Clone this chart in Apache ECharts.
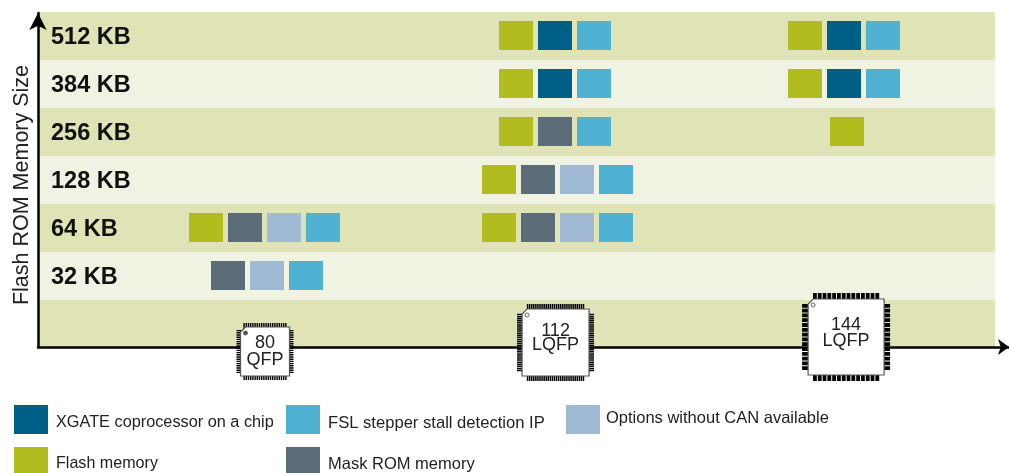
<!DOCTYPE html>
<html>
<head>
<meta charset="utf-8">
<style>
html, body { margin: 0; padding: 0; background: #fff; }
#main { width: 1009px; height: 473px; }
</style>
<script src="https://cdn.jsdelivr.net/npm/echarts@6/dist/echarts.min.js"></script>
</head>
<body>
<div id="main"></div>
<script>
// rows, bottom to top. the empty one is where the packages sit
var memorySizes = ['', '32 KB', '64 KB', '128 KB', '256 KB', '384 KB', '512 KB'];
var packagePins = [80, 112, 144];
var packageNames = ['80\nQFP', '112\nLQFP', '144\nLQFP'];

// [pin count, memory size] for every block
var flashCells = [[80, '64 KB'], [112, '64 KB'], [112, '128 KB'], [112, '256 KB'], [112, '384 KB'], [112, '512 KB'], [144, '256 KB'], [144, '384 KB'], [144, '512 KB']];
var xgateCells = [[112, '384 KB'], [112, '512 KB'], [144, '384 KB'], [144, '512 KB']];
var maskCells = [[80, '32 KB'], [80, '64 KB'], [112, '64 KB'], [112, '128 KB'], [112, '256 KB']];
var optionCells = [[80, '32 KB'], [80, '64 KB'], [112, '64 KB'], [112, '128 KB']];
var fslCells = [[80, '32 KB'], [80, '64 KB'], [112, '64 KB'], [112, '128 KB'], [112, '256 KB'], [112, '384 KB'], [112, '512 KB'], [144, '384 KB'], [144, '512 KB']];

// left to right order inside a cell
var blockTypes = [
    { name: 'Flash memory', color: '#b1bd1f', cells: flashCells },
    { name: 'XGATE coprocessor on a chip', color: '#005f87', cells: xgateCells },
    { name: 'Mask ROM memory', color: '#5c6d7a', cells: maskCells },
    { name: 'Options without CAN available', color: '#9fbad2', cells: optionCells },
    { name: 'FSL stepper stall detection IP', color: '#4fb2d3', cells: fslCells }
];

var FONT = '"Liberation Sans", Arial, sans-serif';
var BLOCK_W = 34, BLOCK_H = 29, BLOCK_PITCH = 39;
// the groups are not quite centred on the package, px nudge by pins-count
var groupNudge = { '80-3': 2, '112-3': -1, '112-4': 2, '144-3': -2, '144-1': 1 };

function hasCell(cells, pins, size) {
    return cells.some(function(c) {
        return c[0] === pins && c[1] === size;
    });
}

// which slot this block takes and how many blocks share the cell
function cellSlot(typeIndex, pins, size) {
    var count = 0, slot = 0;
    blockTypes.forEach(function(t, i) {
        if (hasCell(t.cells, pins, size)) {
            if (i < typeIndex) slot++;
            count++;
        }
    });
    return { slot: slot, count: count };
}

function blockSeries(type, typeIndex) {
    return {
        name: type.name,
        type: 'custom',
        xAxisIndex: 0,
        yAxisIndex: 0,
        z: 3,
        itemStyle: { color: type.color },
        data: type.cells,
        encode: { x: 0, y: 1 },
        renderItem: function(params, api) {
            var cell = type.cells[params.dataIndex];
            var p = api.coord([cell[0], memorySizes.indexOf(cell[1])]);
            var s = cellSlot(typeIndex, cell[0], cell[1]);
            var left = p[0] - (s.count * BLOCK_PITCH - (BLOCK_PITCH - BLOCK_W)) / 2 + s.slot * BLOCK_PITCH;
            left += groupNudge[cell[0] + '-' + s.count] || 0;
            return {
                type: 'rect',
                shape: { x: Math.round(left), y: Math.floor(p[1] - BLOCK_H / 2 + 0.4), width: BLOCK_W, height: BLOCK_H },
                style: { fill: type.color }
            };
        }
    };
}

// chip drawing, one entry per package
var chipLooks = [
    { dy: 27.5, body: 49, pins: 20, pitch: 2.2, pinW: 1.4, pinL: 4, dot: '#555', line: 17, textDy: 0 },
    { dy: 18.5, body: 67, pins: 28, pitch: 2.07, pinW: 1.5, pinL: 5, dot: '#fff', line: 14.5, textDy: -4.5 },
    { dy: 13, body: 76, pins: 14, pitch: 4.8, pinW: 3.8, pinL: 6, dot: '#fff', line: 16, textDy: -4 }
];

function chipItem(params, api) {
    var look = chipLooks[params.dataIndex];
    var p = api.coord([api.value(0), 0]);
    var half = look.body / 2;
    var span = (look.pins - 1) * look.pitch;
    var children = [];
    for (var i = 0; i < look.pins; i++) {
        var t = -span / 2 + i * look.pitch - look.pinW / 2;
        children.push({ type: 'rect', shape: { x: t, y: -half - look.pinL, width: look.pinW, height: look.body + 2 * look.pinL }, style: { fill: '#000' } });
        children.push({ type: 'rect', shape: { x: -half - look.pinL, y: t, width: look.body + 2 * look.pinL, height: look.pinW }, style: { fill: '#000' } });
    }
    var c = 5;
    children.push({
        type: 'polygon',
        shape: { points: [[-half + c, -half], [half, -half], [half, half], [-half, half], [-half, -half + c]] },
        style: { fill: '#fff', stroke: '#555', lineWidth: 1.2 }
    });
    children.push({
        type: 'circle',
        shape: { cx: -half + 5, cy: -half + 6, r: 2 },
        style: { fill: look.dot, stroke: '#444', lineWidth: 0.8 }
    });
    children.push({
        type: 'text',
        style: {
            text: packageNames[params.dataIndex],
            x: 0,
            y: look.textDy,
            align: 'center',
            verticalAlign: 'middle',
            font: '18px ' + FONT,
            lineHeight: look.line,
            fill: '#222'
        }
    });
    return { type: 'group', x: p[0], y: p[1] + look.dy, children: children };
}

function legendAt(name, left, top, h, size, textPad) {
    return {
        data: [name],
        left: left,
        top: top,
        padding: 0,
        orient: 'horizontal',
        icon: 'rect',
        itemWidth: 34,
        itemHeight: h,
        selectedMode: false,
        formatter: '{t|{name}}',
        textStyle: {
            rich: { t: { fontFamily: FONT, fontSize: size, color: '#222', padding: textPad } }
        }
    };
}

var series = blockTypes.map(blockSeries);
series.push({
    type: 'custom',
    name: 'packages',
    xAxisIndex: 0,
    yAxisIndex: 0,
    z: 5,
    clip: false,
    silent: true,
    data: packagePins.map(function(p) { return [p, 0]; }),
    encode: { x: 0, y: 1 },
    renderItem: chipItem
});

var chart = echarts.init(document.getElementById('main'), null, { renderer: 'canvas' });
chart.setOption({
    animation: false,
    backgroundColor: '#fff',
    legend: [
        legendAt('XGATE coprocessor on a chip', 14, 405, 29, 16.3, [6, 0, 0, 3]),
        legendAt('FSL stepper stall detection IP', 286, 405, 29, 16.6, [8, 0, 0, 3]),
        legendAt('Options without CAN available', 566, 405, 29, 16.5, [0, 0, 2, 1]),
        legendAt('Flash memory', 14, 447, 26, 16.1, [8, 0, 0, 3]),
        legendAt('Mask ROM memory', 286, 447, 26, 16.5, [8, 0, 0, 3])
    ],
    grid: [
        { left: 38, top: 12, width: 957, height: 336, outerBoundsMode: 'none' },
        { left: 38, top: 13, right: 0, height: 334, outerBoundsMode: 'none' }
    ],
    xAxis: [
        // pin count scale, the three packages are evenly spaced on it
        { type: 'value', gridIndex: 0, min: 55, max: 160.4, show: false },
        {
            type: 'value',
            gridIndex: 1,
            min: 0,
            max: 1,
            splitLine: { show: false },
            axisTick: { show: false },
            axisLabel: { show: false },
            axisLine: { show: true, symbol: ['none', 'arrow'], symbolSize: [12, 11], lineStyle: { color: '#000', width: 2.5 } }
        }
    ],
    yAxis: [
        {
            type: 'category',
            gridIndex: 0,
            data: memorySizes,
            axisLine: { show: false },
            axisTick: { show: false },
            axisLabel: {
                inside: true,
                interval: 0,
                margin: 13,
                align: 'left',
                formatter: '{l|{value}}',
                rich: {
                    l: { fontFamily: FONT, fontWeight: 'bold', fontSize: 23.5, color: '#111', padding: [4, 0, 0, 0] }
                }
            },
            splitLine: { show: false },
            splitArea: { show: true, interval: 0, areaStyle: { color: ['#e0e3b5', '#f0f3e2'] } }
        },
        {
            type: 'value',
            gridIndex: 1,
            min: 0,
            max: 1,
            name: 'Flash ROM Memory Size',
            nameLocation: 'middle',
            nameRotate: 90,
            nameGap: 5,
            nameTextStyle: { fontFamily: FONT, fontSize: 21.5, color: '#222', padding: [0, 10, 0, 0] },
            splitLine: { show: false },
            axisTick: { show: false },
            axisLabel: { show: false },
            axisLine: { show: true, symbol: ['none', 'arrow'], symbolSize: [13, 17], lineStyle: { color: '#000', width: 2.5 } }
        }
    ],
    series: series
});
</script>
</body>
</html>
